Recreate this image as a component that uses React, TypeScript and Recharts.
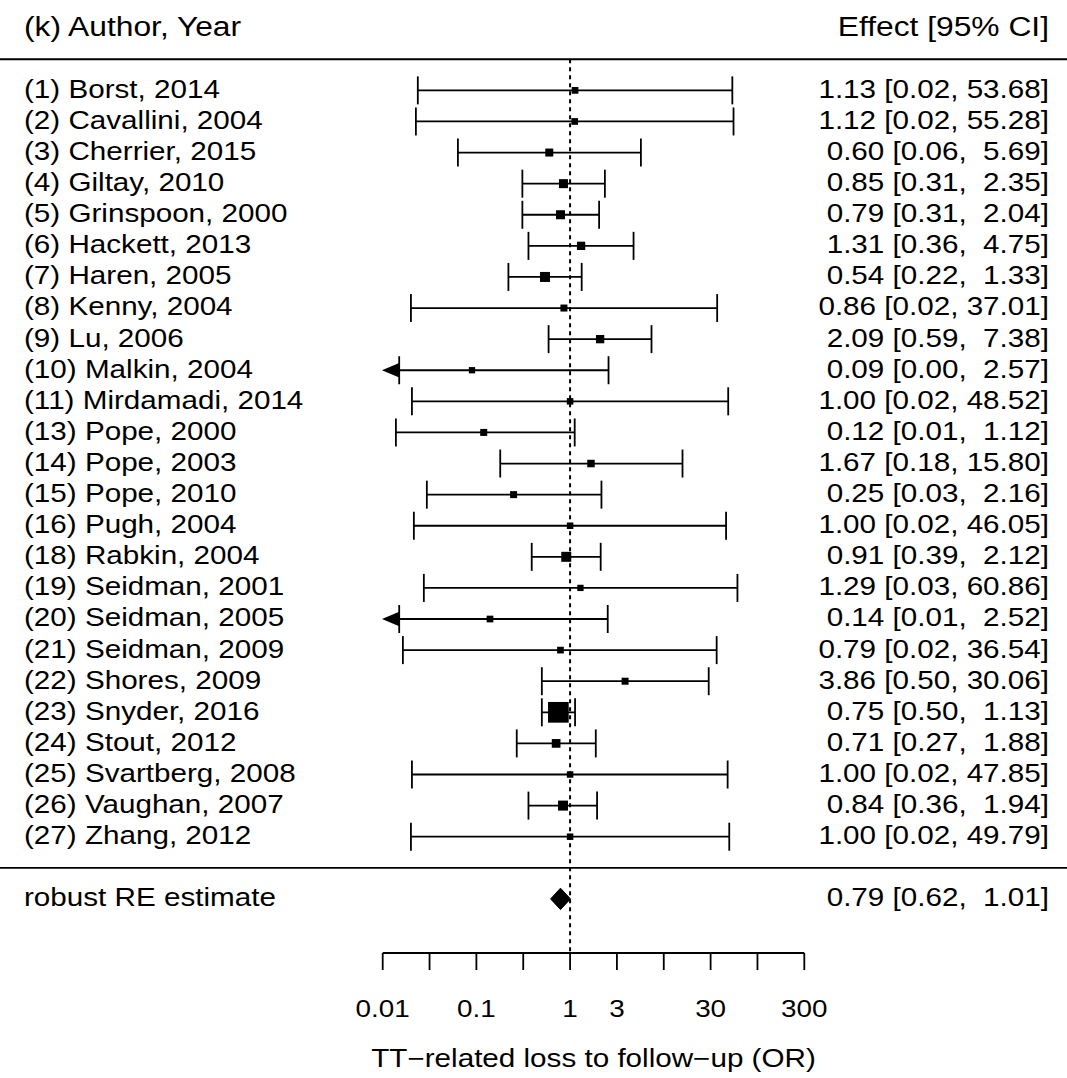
import { ComposedChart, Scatter, ErrorBar, Area, XAxis, YAxis, ReferenceLine } from 'recharts'

// study labels, odds ratios and 95% CI bounds as printed on the plot
const STUDIES = [
  '(1) Borst, 2014',
  '(2) Cavallini, 2004',
  '(3) Cherrier, 2015',
  '(4) Giltay, 2010',
  '(5) Grinspoon, 2000',
  '(6) Hackett, 2013',
  '(7) Haren, 2005',
  '(8) Kenny, 2004',
  '(9) Lu, 2006',
  '(10) Malkin, 2004',
  '(11) Mirdamadi, 2014',
  '(13) Pope, 2000',
  '(14) Pope, 2003',
  '(15) Pope, 2010',
  '(16) Pugh, 2004',
  '(18) Rabkin, 2004',
  '(19) Seidman, 2001',
  '(20) Seidman, 2005',
  '(21) Seidman, 2009',
  '(22) Shores, 2009',
  '(23) Snyder, 2016',
  '(24) Stout, 2012',
  '(25) Svartberg, 2008',
  '(26) Vaughan, 2007',
  '(27) Zhang, 2012',
]
const ESTIMATES = [1.13, 1.12, 0.6, 0.85, 0.79, 1.31, 0.54, 0.86, 2.09, 0.09, 1.0, 0.12, 1.67, 0.25, 1.0, 0.91, 1.29, 0.14, 0.79, 3.86, 0.75, 0.71, 1.0, 0.84, 1.0]
const CI_LOWER = [0.0238, 0.0227, 0.0637, 0.31, 0.31, 0.36, 0.22, 0.0201, 0.59, 0.003, 0.0206, 0.0139, 0.18, 0.0297, 0.0216, 0.39, 0.0276, 0.008, 0.0165, 0.5, 0.5, 0.27, 0.0206, 0.36, 0.0201]
const CI_UPPER = [53.68, 55.28, 5.69, 2.35, 2.04, 4.75, 1.33, 37.01, 7.38, 2.57, 48.52, 1.12, 15.8, 2.16, 46.05, 2.12, 60.86, 2.52, 36.54, 30.06, 1.13, 1.88, 47.85, 1.94, 49.79]
// relative study weights (%)
const WEIGHTS = [1.2, 1.2, 2.5, 3.5, 3.5, 2.8, 4.5, 1.5, 2.8, 0.8, 1.0, 1.5, 2.0, 1.5, 1.0, 4.5, 0.8, 1.2, 1.2, 1.5, 15.2, 3.2, 1.0, 4.5, 1.0]

const SUMMARY_LABEL = 'robust RE estimate'
const SUMMARY_EST = 0.79
const SUMMARY_LOWER = 0.62
const SUMMARY_UPPER = 1.01

// axis ticks on the log-odds scale and their printed labels
const AXIS_TICKS_LN = [-4.6, -3.45, -2.3, -1.15, 0, 1.15, 2.3, 3.45, 4.6, 5.75]
const AXIS_LABELS = ['0.01', '', '0.1', '', '1', '3', '', '30', '', '300']
const AXIS_TITLE = 'TT\u2212related loss to follow\u2212up (OR)'
const HEADER_LEFT = '(k) Author, Year'
const HEADER_RIGHT = 'Effect [95% CI]'

const CHART_W = 1067
const CHART_H = 1078
const FONT = '"Liberation Sans", Arial, Helvetica, sans-serif'
const FONT_SIZE = 25
const HEADER_SIZE = 26.8
const TICK_SIZE = 23.5
const STRETCH = 1.185
const TEXT_LEFT = 24
const TEXT_RIGHT = 1049
const BASELINE_SHIFT = 7.4
const LINE_W = 1.8

const N = STUDIES.length
const XMIN = AXIS_TICKS_LN[0]
const XMAX = AXIS_TICKS_LN[AXIS_TICKS_LN.length - 1]
const YMIN = -2.74
const YMAX = 27.52
const HEADER_ROW = N + 2
const RULE_ROWS = [N + 1, 0]
const SUMMARY_ROW = -1
const DIAMOND_HALF = 0.345
const ARROW_LEN = 0.405
const ARROW_PX = 16.5
const SQ_MIN = 6.3
const SQ_MAX = 20.7

const fmtEffect = (e: number, lo: number, hi: number) =>
  `${e.toFixed(2)} [${lo.toFixed(2)}, ${hi.toFixed(2).padStart(5, ' ')}]`

const wMin = Math.min(...WEIGHTS)
const wMax = Math.max(...WEIGHTS)
const squareSize = (w: number) => SQ_MIN + ((w - wMin) / (wMax - wMin)) * (SQ_MAX - SQ_MIN)

const rows = STUDIES.map((name, i) => {
  const est = Math.log(ESTIMATES[i])
  const lo = Math.log(CI_LOWER[i])
  const hi = Math.log(CI_UPPER[i])
  const clipped = lo < XMIN
  const loDraw = clipped ? XMIN + ARROW_LEN : lo
  return {
    name,
    x: est,
    y: N - i,
    err: [est - loDraw, hi - est],
    clipped,
    w: WEIGHTS[i],
    effect: fmtEffect(ESTIMATES[i], CI_LOWER[i], CI_UPPER[i]),
  }
})

const arrows = rows.filter(r => r.clipped).map(r => ({ x: XMIN, y: r.y }))
const rules = RULE_ROWS.map(y => ({ x: 0, y }))
const header = [{ x: 0, y: HEADER_ROW }]
const summary = [{ x: Math.log(SUMMARY_EST), y: SUMMARY_ROW, effect: fmtEffect(SUMMARY_EST, SUMMARY_LOWER, SUMMARY_UPPER) }]

const diamond = [
  { x: Math.log(SUMMARY_LOWER), band: [SUMMARY_ROW, SUMMARY_ROW] },
  { x: Math.log(SUMMARY_EST), band: [SUMMARY_ROW - DIAMOND_HALF, SUMMARY_ROW + DIAMOND_HALF] },
  { x: Math.log(SUMMARY_UPPER), band: [SUMMARY_ROW, SUMMARY_ROW] },
]

const StretchText = ({ x, y, anchor, size = FONT_SIZE, children }: any) => (
  <g transform={`translate(${x},${y}) scale(${STRETCH},1)`}>
    <text
      x={0}
      y={0}
      textAnchor={anchor}
      fontFamily={FONT}
      fontSize={size}
      fill="#000"
      xmlSpace="preserve"
      style={{ whiteSpace: 'pre' }}
    >
      {children}
    </text>
  </g>
)

const StudyMark = (props: any) => {
  const { cx, cy, payload } = props
  const s = squareSize(payload.w)
  return (
    <g>
      <rect x={cx - s / 2} y={cy - s / 2} width={s} height={s} fill="#000" />
      <StretchText x={TEXT_LEFT} y={cy + BASELINE_SHIFT} anchor="start">{payload.name}</StretchText>
      <StretchText x={TEXT_RIGHT} y={cy + BASELINE_SHIFT} anchor="end">{payload.effect}</StretchText>
    </g>
  )
}

const ArrowMark = (props: any) => {
  const { cx, cy } = props
  return <polygon points={`${cx - 0.7},${cy} ${cx + ARROW_PX},${cy - 7.3} ${cx + ARROW_PX},${cy + 7.3}`} fill="#000" />
}

const RuleMark = (props: any) => (
  <line x1={0} x2={CHART_W} y1={props.cy} y2={props.cy} stroke="#000" strokeWidth={LINE_W} />
)

const HeaderMark = (props: any) => (
  <g>
    <StretchText x={TEXT_LEFT} y={props.cy + BASELINE_SHIFT} anchor="start" size={HEADER_SIZE}>{HEADER_LEFT}</StretchText>
    <StretchText x={TEXT_RIGHT} y={props.cy + BASELINE_SHIFT} anchor="end" size={HEADER_SIZE}>{HEADER_RIGHT}</StretchText>
  </g>
)

const SummaryMark = (props: any) => (
  <g>
    <StretchText x={TEXT_LEFT} y={props.cy + BASELINE_SHIFT} anchor="start">{SUMMARY_LABEL}</StretchText>
    <StretchText x={TEXT_RIGHT} y={props.cy + BASELINE_SHIFT} anchor="end">{props.payload.effect}</StretchText>
  </g>
)

const AxisTick = (props: any) => {
  const { x, y, payload } = props
  const label = AXIS_LABELS[AXIS_TICKS_LN.indexOf(payload.value)] ?? ''
  if (!label) return <g />
  return <StretchText x={x} y={y + 47} anchor="middle" size={TICK_SIZE}>{label}</StretchText>
}

const AxisTitle = (props: any) => {
  const vb = props.viewBox ?? { x: 382.7, y: 953, width: 421.6, height: 125 }
  return <StretchText x={vb.x + vb.width / 2} y={vb.y + 114} anchor="middle">{AXIS_TITLE}</StretchText>
}

const App = () => {
  return (
    <div style={{ position: 'absolute', left: 0, top: 0, width: CHART_W, height: CHART_H, background: '#fff' }}>
      <ComposedChart
        width={CHART_W}
        height={CHART_H}
        data={diamond}
        margin={{ top: 12, right: 262.7, bottom: 0, left: 382.7 }}
      >
        <XAxis
          type="number"
          dataKey="x"
          domain={[XMIN, XMAX]}
          ticks={AXIS_TICKS_LN}
          interval={0}
          height={125}
          tickSize={17}
          tickMargin={0}
          axisLine={{ stroke: '#000', strokeWidth: LINE_W }}
          tickLine={{ stroke: '#000', strokeWidth: LINE_W }}
          tick={<AxisTick />}
          label={{ content: (p: any) => <AxisTitle {...p} /> }}
        />
        <YAxis type="number" dataKey="y" domain={[YMIN, YMAX]} hide />
        <ReferenceLine
          segment={[{ x: 0, y: N + 1 }, { x: 0, y: YMIN }]}
          stroke="#000"
          strokeWidth={2}
          strokeDasharray="4 4"
          ifOverflow="visible"
        />
        <Scatter data={rules} shape={<RuleMark />} isAnimationActive={false} />
        <Scatter data={header} shape={<HeaderMark />} isAnimationActive={false} />
        <Scatter data={rows} shape={<StudyMark />} isAnimationActive={false}>
          <ErrorBar dataKey="err" direction="x" width={14} stroke="#000" strokeWidth={LINE_W} />
        </Scatter>
        <Scatter data={arrows} shape={<ArrowMark />} isAnimationActive={false} />
        <Area
          type="linear"
          dataKey="band"
          stroke="#000"
          strokeWidth={1}
          fill="#000"
          fillOpacity={1}
          dot={false}
          activeDot={false}
          isAnimationActive={false}
        />
        <Scatter data={summary} shape={<SummaryMark />} isAnimationActive={false} />
      </ComposedChart>
    </div>
  )
}

export default App
